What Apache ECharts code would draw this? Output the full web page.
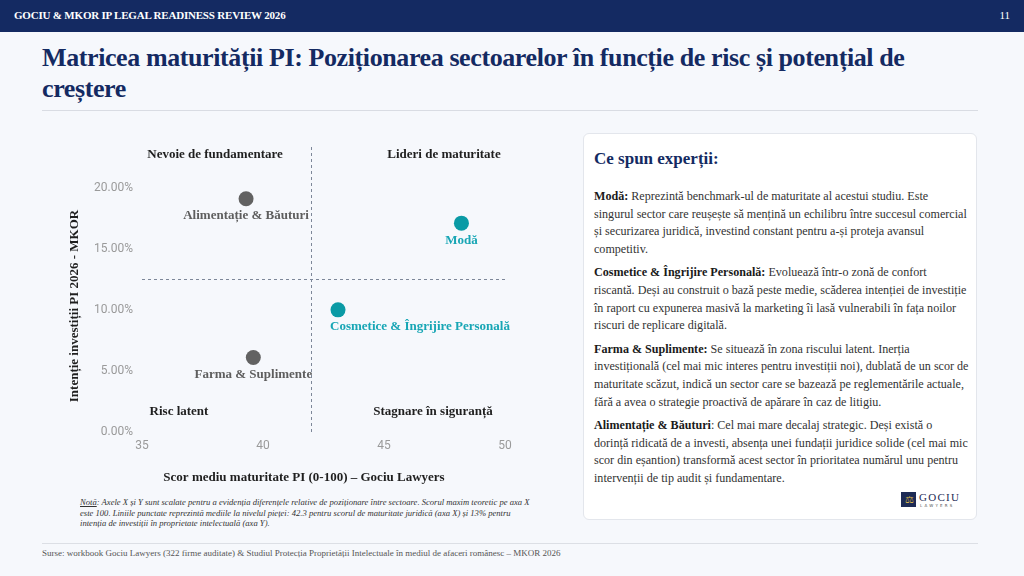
<!DOCTYPE html>
<html>
<head>
<meta charset="utf-8">
<script src="https://cdn.jsdelivr.net/npm/echarts@6/dist/echarts.min.js"></script>
<style>
  html, body { margin: 0; padding: 0; }
  body { width: 1024px; height: 576px; background: #f6f8fc; position: relative; overflow: hidden;
         font-family: "Liberation Serif", serif; color: #222; }
  .topbar { position: absolute; left: 0; top: 0; width: 1024px; height: 32px; background: #142a62; color: #fff; }
  .topbar .brand { position: absolute; left: 14px; top: 9px; font-size: 11px; font-weight: bold; letter-spacing: -0.2px; }
  .topbar .page { position: absolute; right: 14px; top: 9px; font-size: 11px; }
  .title { position: absolute; left: 42px; top: 42px; width: 960px; font-size: 26px; line-height: 31px;
           font-weight: bold; color: #142a62; letter-spacing: -0.4px; }
  .rule { position: absolute; left: 42px; top: 110px; width: 936px; height: 1px; background: #d9dce3; }
  #chart { position: absolute; left: 40px; top: 120px; width: 530px; height: 370px; }
  .note { position: absolute; left: 80px; top: 497px; width: 450px; font-size: 8.6px; line-height: 10.6px;
          font-style: italic; color: #333; }
  .note u { text-decoration: underline; }
  .card { position: absolute; left: 583px; top: 133px; width: 394px; height: 387px; background: #fff;
          border: 1px solid #e3e6ec; border-radius: 6px; box-sizing: border-box; }
  .card h3 { position: absolute; left: 10px; top: 15px; margin: 0; font-size: 17px; color: #142a62; }
  .card .body { position: absolute; left: 10px; top: 54px; width: 374.5px; font-size: 12.1px; line-height: 17.7px; color: #333; }
  .card p { margin: 0 0 5.5px 0; }
  .card b { color: #1a1a1a; }
  .logo { position: absolute; left: 317px; top: 358px; width: 60px; height: 18px; }
  .logo .sq { position: absolute; left: 0; top: 0; width: 15px; height: 15px; background: #1d2b55; }
  .logo .sq span { position: absolute; left: 4px; top: 2px; color: #d8b54a; font-size: 10px; line-height: 11px; }
  .logo .g { position: absolute; left: 18px; top: -1px; font-size: 11px; letter-spacing: 1.3px; color: #1d2b55; }
  .logo .l { position: absolute; left: 19px; top: 11px; font-size: 4px; letter-spacing: 2.2px; color: #555; font-family: "DejaVu Sans", sans-serif; }
  .frule { position: absolute; left: 42px; top: 543px; width: 936px; height: 1px; background: #dcdfe5; }
  .source { position: absolute; left: 42px; top: 548px; font-size: 9px; color: #555; }
</style>
</head>
<body>
<div class="topbar"><div class="brand">GOCIU &amp; MKOR IP LEGAL READINESS REVIEW 2026</div><div class="page">11</div></div>
<div class="title">Matricea maturității PI: Poziționarea sectoarelor în funcție de risc și potențial de<br>creștere</div>
<div class="rule"></div>
<div id="chart"></div>
<div class="note"><u>Notă</u>: Axele X și Y sunt scalate pentru a evidenția diferențele relative de poziționare între sectoare. Scorul maxim teoretic pe axa X este 100. Liniile punctate reprezintă mediile la nivelul pieței: 42.3 pentru scorul de maturitate juridică (axa X) și 13% pentru intenția de investiții în proprietate intelectuală (axa Y).</div>
<div class="card">
  <h3>Ce spun experții:</h3>
  <div class="body">
    <p><b>Modă:</b> Reprezintă benchmark-ul de maturitate al acestui studiu. Este singurul sector care reușește să mențină un echilibru între succesul comercial și securizarea juridică, investind constant pentru a-și proteja avansul competitiv.</p>
    <p><b>Cosmetice &amp; Îngrijire Personală:</b> Evoluează într-o zonă de confort riscantă. Deși au construit o bază peste medie, scăderea intenției de investiție în raport cu expunerea masivă la marketing îi lasă vulnerabili în fața noilor riscuri de replicare digitală.</p>
    <p><b>Farma &amp; Suplimente:</b> Se situează în zona riscului latent. Inerția investițională (cel mai mic interes pentru investiții noi), dublată de un scor de maturitate scăzut, indică un sector care se bazează pe reglementările actuale, fără a avea o strategie proactivă de apărare în caz de litigiu.</p>
    <p><b>Alimentație &amp; Băuturi</b>: Cel mai mare decalaj strategic. Deși există o dorință ridicată de a investi, absența unei fundații juridice solide (cel mai mic scor din eșantion) transformă acest sector în prioritatea numărul unu pentru intervenții de tip audit și fundamentare.</p>
  </div>
  <div class="logo"><div class="sq"><span>⚖</span></div><div class="g">GOCIU</div><div class="l">LAWYERS</div></div>
</div>
<div class="frule"></div>
<div class="source">Surse: workbook Gociu Lawyers (322 firme auditate) &amp; Studiul Protecția Proprietății Intelectuale în mediul de afaceri românesc – MKOR 2026</div>

<script>
// sectoare si valori
var sectors = ["Alimentație & Băuturi", "Modă", "Cosmetice & Îngrijire Personală", "Farma & Suplimente"];
var maturityScore = [39.3, 48.2, 43.1, 39.6];   // axa X
var investIntent = [19.1, 17.1, 10.0, 6.1];     // axa Y, procente
var highlight = [false, true, true, false];
var avgX = 42;
var avgY = 12.5;
var quadrants = ["Nevoie de fundamentare", "Lideri de maturitate", "Risc latent", "Stagnare în siguranță"];

var serif = "Liberation Serif";

var points = sectors.map(function (name, i) {
    var col = highlight[i] ? "#0a9aa5" : "#626262";
    var txt = highlight[i] ? "#18a6b5" : "#5e5e5e";
    var lbl = { color: txt };
    // eticheta pentru Cosmetice e aliniata la stanga in original
    if (i === 2) { lbl.align = "left"; lbl.offset = [-8, 0]; }
    return {
        name: name,
        value: [maturityScore[i], investIntent[i]],
        itemStyle: { color: col, opacity: 1 },
        label: lbl
    };
});

function boldText(text, x, y, rot) {
    return {
        type: "text", x: x, y: y, rotation: rot || 0,
        style: { text: text, fill: "#1f1f1f", font: "bold 13px '" + serif + "'", textAlign: "center", textVerticalAlign: "middle" }
    };
}

var myChart = echarts.init(document.getElementById("chart"));
myChart.setOption({
    animation: false,
    grid: { left: 102, right: 65, top: 25, bottom: 58 },
    xAxis: {
        type: "value", min: 35, max: 50, interval: 5,
        axisLine: { show: false }, axisTick: { show: false }, splitLine: { show: false },
        axisLabel: { color: "#9a9a9a", fontSize: 12, fontFamily: "Roboto", margin: 8 }
    },
    yAxis: {
        type: "value", min: 0, max: 23.5, interval: 5,
        axisLine: { show: false }, axisTick: { show: false }, splitLine: { show: false },
        axisLabel: {
            color: "#9a9a9a", fontSize: 12, fontFamily: "Roboto", margin: 9, showMaxLabel: false,
            formatter: function (v) { return v.toFixed(2) + "%"; }
        }
    },
    graphic: [
        boldText("Intenție investiții PI 2026 - MKOR", 35, 186, Math.PI / 2),
        boldText("Scor mediu maturitate PI (0-100) – Gociu Lawyers", 264, 358),
        boldText(quadrants[0], 175, 35),
        boldText(quadrants[1], 404, 35),
        boldText(quadrants[2], 139, 292),
        boldText(quadrants[3], 393, 292)
    ],
    series: [{
        type: "scatter",
        symbolSize: 15,
        data: points,
        label: {
            show: true, position: "bottom", distance: 3,
            fontFamily: serif, fontWeight: "bold", fontSize: 13,
            formatter: function (p) { return p.name; }
        },
        markLine: {
            silent: true, symbol: "none", label: { show: false },
            lineStyle: { color: "#7d8799", type: [3, 3], width: 1 },
            data: [{ xAxis: avgX }, { yAxis: avgY }]
        }
    }]
});
</script>
</body>
</html>
